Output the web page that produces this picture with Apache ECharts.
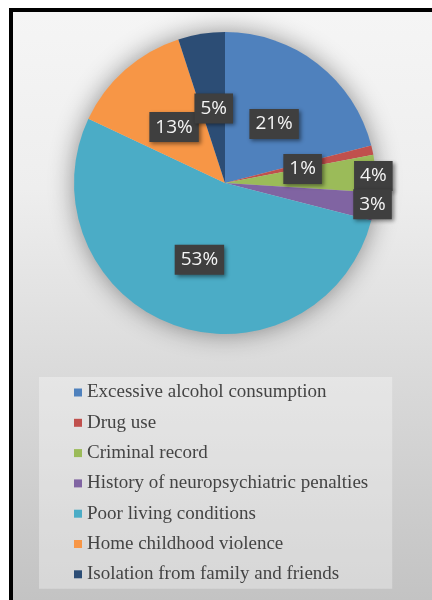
<!DOCTYPE html>
<html>
<head>
<meta charset="utf-8">
<script src="https://cdn.jsdelivr.net/npm/echarts@6/dist/echarts.min.js"></script>
<style>
  html, body { margin: 0; padding: 0; background: #ffffff; }
  #frame {
    position: absolute; left: 9px; top: 8px; right: 0; bottom: 0;
    border-top: 4px solid #000; border-left: 4px solid #000;
    background: linear-gradient(to bottom, #f5f5f5 0%, #eeeeee 30%, #dbdbdb 60%, #c3c3c3 100%);
  }
  #chart { position: absolute; left: 0; top: 0; width: 432px; height: 600px; }
</style>
</head>
<body>
<div id="frame"></div>
<div id="chart"></div>
<script>
// Risk factors and their share of cases (%)
const categories = [
  'Excessive alcohol consumption',
  'Drug use',
  'Criminal record',
  'History of neuropsychiatric penalties',
  'Poor living conditions',
  'Home childhood violence',
  'Isolation from family and friends'
];
const shares = [21, 1, 4, 3, 53, 13, 5];

const sliceColors = ['#4f81bd', '#c0504d', '#9bbb59', '#8064a2', '#4bacc6', '#f79646', '#2c4d75'];
// the two thin slices on the right get their labels pushed out to the rim
const labelNudges = { 2: [70, -2], 3: [70, 9] };

const chart = echarts.init(document.getElementById('chart'), null, { renderer: 'canvas' });

const pieData = categories.map((name, i) => {
  const item = { name, value: shares[i], itemStyle: { color: sliceColors[i] } };
  if (labelNudges[i]) item.label = { offset: labelNudges[i] };
  return item;
});

chart.setOption({
  backgroundColor: 'transparent',
  animation: false,
  legend: {
    orient: 'vertical',
    left: 39,
    top: 377,
    padding: [6, 24, 5, 35],
    backgroundColor: 'rgba(255,255,255,0.32)',
    itemWidth: 8,
    itemHeight: 8,
    itemGap: 11.3,
    icon: 'rect',
    selectedMode: false,
    textStyle: {
      fontFamily: 'Liberation Serif',
      fontSize: 19,
      color: '#444444',
      padding: [0, 0, 0, 0]
    },
    data: categories
  },
  series: [
    {
      // soft halo behind the pie
      type: 'pie',
      silent: true,
      center: [225, 183],
      radius: 150,
      label: { show: false },
      labelLine: { show: false },
      itemStyle: { color: '#d0d0d0', shadowBlur: 26, shadowColor: 'rgba(0,0,0,0.45)' },
      data: [{ name: '', value: 1 }],
      legendHoverLink: false
    },
    {
      type: 'pie',
      center: [225, 183],
      radius: 151,
      startAngle: 90,
      clockwise: true,
      avoidLabelOverlap: false,
      labelLayout: { hideOverlap: false },
      labelLine: { show: false },
      label: {
        show: true,
        position: 'inside',
        offset: [1, 3],
        formatter: '{c}%',
        fontFamily: 'Open Sans',
        fontSize: 19,
        lineHeight: 20,
        color: '#f4f4f4',
        backgroundColor: '#3f3f3f',
        padding: [5, 6, 5, 6],
        shadowBlur: 4,
        shadowOffsetX: 2,
        shadowOffsetY: 2,
        shadowColor: 'rgba(0,0,0,0.45)'
      },
      data: pieData
    }
  ]
});
</script>
</body>
</html>
